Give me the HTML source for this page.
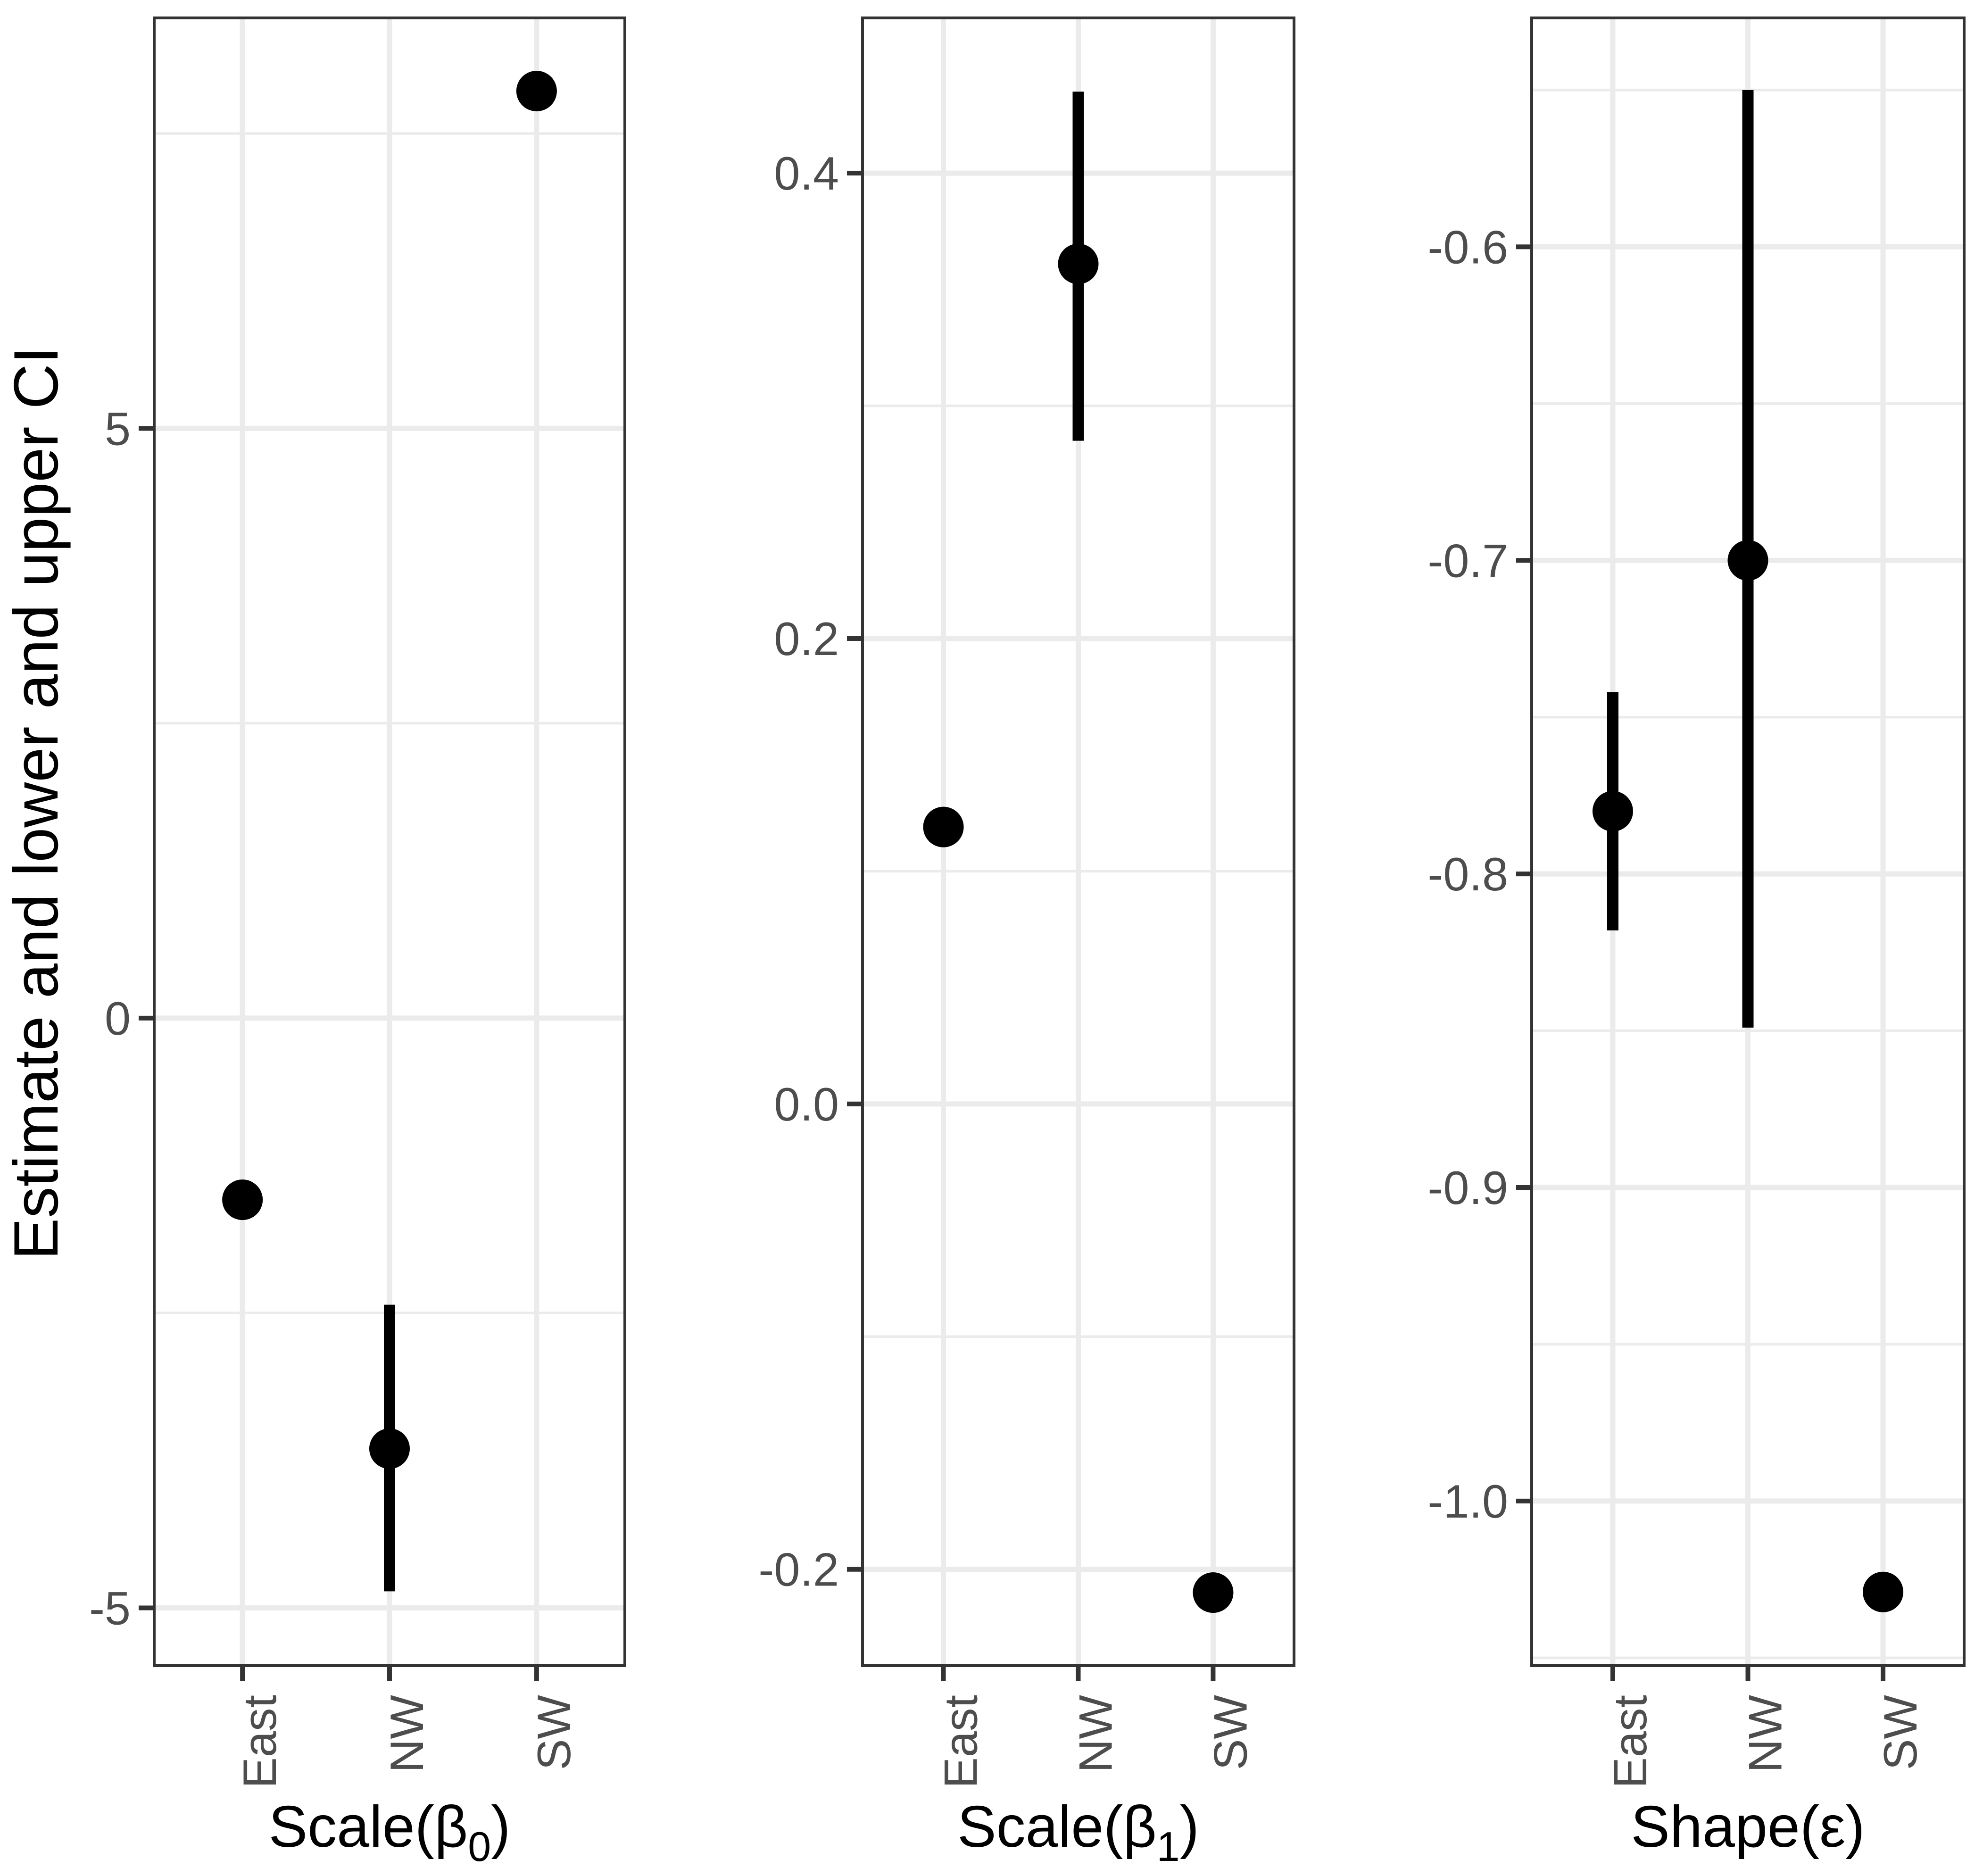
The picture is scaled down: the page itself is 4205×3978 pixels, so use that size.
<!DOCTYPE html>
<html><head><meta charset="utf-8"><style>
html,body{margin:0;padding:0;background:#fff;}
svg{display:block;font-family:"Liberation Sans",Arial,sans-serif;}
</style></head><body>
<svg id="chart" width="4205" height="3978" viewBox="0 0 4205 3978" xmlns="http://www.w3.org/2000/svg">
<rect width="4205" height="3978" fill="#fff"/>
<text transform="translate(122,1703) rotate(-90)" text-anchor="middle" font-size="133" fill="#000">Estimate and lower and upper CI</text>
</svg>
<script>
const categories = ["East", "NW", "SW"];
// Panel 1: Scale(beta0)
const p1Est = [-1.54, -3.65, 7.86];
const p1Lo = [null, -4.86, null];
const p1Hi = [null, -2.43, null];
const p1Ticks = [-5, 0, 5];
const p1TickLabels = ["-5", "0", "5"];
const p1Domain = [-5.49, 8.48];
// Panel 2: Scale(beta1)
const p2Est = [0.119, 0.361, -0.210];
const p2Lo = [null, 0.285, null];
const p2Hi = [null, 0.435, null];
const p2Ticks = [-0.2, 0.0, 0.2, 0.4];
const p2TickLabels = ["-0.2", "0.0", "0.2", "0.4"];
const p2Domain = [-0.2414, 0.4667];
// Panel 3: Shape(epsilon)
const p3Est = [-0.780, -0.700, -1.029];
const p3Lo = [-0.818, -0.849, null];
const p3Hi = [-0.742, -0.550, null];
const p3Ticks = [-1.0, -0.9, -0.8, -0.7, -0.6];
const p3TickLabels = ["-1.0", "-0.9", "-0.8", "-0.7", "-0.6"];
const p3Domain = [-1.0525, -0.527];

const NS = "http://www.w3.org/2000/svg";
const svg = document.getElementById("chart");
function mk(tag, attrs, parent) {
  const e = document.createElementNS(NS, tag);
  for (const k in attrs) e.setAttribute(k, attrs[k]);
  (parent || svg).appendChild(e);
  return e;
}
const TOP = 38, BOT = 3532;
const panels = [
  {x0: 327, x1: 1325, est: p1Est, lo: p1Lo, hi: p1Hi, ticks: p1Ticks, labels: p1TickLabels, dom: p1Domain, title: "Scale(β", sub: "0", tail: ")", name: "scale-beta0"},
  {x0: 1829, x1: 2744, est: p2Est, lo: p2Lo, hi: p2Hi, ticks: p2Ticks, labels: p2TickLabels, dom: p2Domain, title: "Scale(β", sub: "1", tail: ")", name: "scale-beta1"},
  {x0: 3248, x1: 4165, est: p3Est, lo: p3Lo, hi: p3Hi, ticks: p3Ticks, labels: p3TickLabels, dom: p3Domain, title: "Shape(ε", sub: "", tail: ")", name: "shape-epsilon"}
];
panels.forEach(function(p) {
  const g = mk("g", {});
  
  
  const yS = v => BOT - (v - p.dom[0]) / (p.dom[1] - p.dom[0]) * (BOT - TOP);
  const xS = i => p.x0 + (i + 1 - 0.4) / 3.2 * (p.x1 - p.x0);
  for (let i = 0; i <= p.ticks.length; i++) {
    const step = p.ticks[1] - p.ticks[0];
    const v = p.ticks[0] - step / 2 + i * step;
    if (v > p.dom[0] && v < p.dom[1]) {
      const l = mk("line", {x1: p.x0, x2: p.x1, y1: yS(v), y2: yS(v), stroke: "#EBEBEB", "stroke-width": 5.5}, g);
      
      
    }
  }
  p.ticks.forEach(function(t, i) {
    const y = yS(t);
    const l = mk("line", {x1: p.x0, x2: p.x1, y1: y, y2: y, stroke: "#EBEBEB", "stroke-width": 11}, g);
    
    
    const tk = mk("line", {x1: p.x0 - 33, x2: p.x0, y1: y, y2: y, stroke: "#333", "stroke-width": 10}, g);
    
    
    const tx = mk("text", {x: p.x0 - 50, y: y + 35, "text-anchor": "end", "font-size": 99, fill: "#4D4D4D"}, g);
    tx.textContent = p.labels[i];
    
    
  });
  categories.forEach(function(c, i) {
    const x = xS(i);
    const l = mk("line", {x1: x, x2: x, y1: TOP, y2: BOT, stroke: "#EBEBEB", "stroke-width": 11}, g);
    
    
    const tk = mk("line", {x1: x, x2: x, y1: BOT, y2: BOT + 33, stroke: "#333", "stroke-width": 10}, g);
    
    
    const tx = mk("text", {transform: "translate(" + (x + 71) + "," + (BOT + 62) + ") rotate(-90)", "text-anchor": "end", "font-size": 99, fill: "#4D4D4D"}, g);
    tx.textContent = c;
    
    
  });
  categories.forEach(function(c, i) {
    const x = xS(i);
    if (p.lo[i] !== null && p.hi[i] !== null) {
      const eb = mk("line", {x1: x, x2: x, y1: yS(p.hi[i]), y2: yS(p.lo[i]), stroke: "#000", "stroke-width": 24}, g);
      
      
    }
    const pt = mk("circle", {cx: x, cy: yS(p.est[i]), r: 43, fill: "#000"}, g);
    
    
  });
  const border = mk("rect", {x: p.x0, y: TOP, width: p.x1 - p.x0, height: BOT - TOP, fill: "none", stroke: "#333", "stroke-width": 6}, g);
  
  
  const tt = mk("text", {x: (p.x0 + p.x1) / 2, y: 3916, "text-anchor": "middle", "font-size": 124, fill: "#000"}, g);
  
  
  tt.appendChild(document.createTextNode(p.title));
  if (p.sub) {
    const s = mk("tspan", {"font-size": 88, dy: 30}, tt);
    s.textContent = p.sub;
    const t2 = mk("tspan", {dy: -30}, tt);
    t2.textContent = p.tail;
  } else {
    tt.appendChild(document.createTextNode(p.tail));
  }
});
</script>
</body></html>
